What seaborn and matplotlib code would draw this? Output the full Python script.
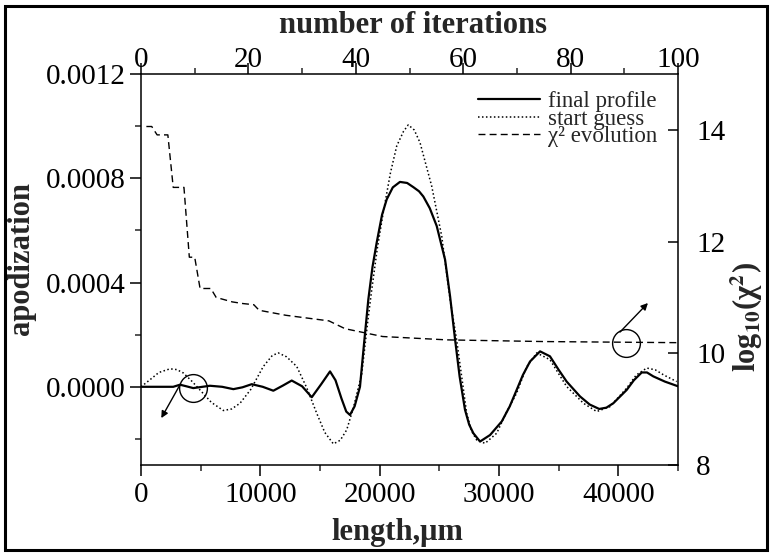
import numpy as np
import pandas as pd
import matplotlib
matplotlib.use("Agg")
import matplotlib.pyplot as plt
import seaborn as sns
from matplotlib.patches import Rectangle
from matplotlib.ticker import MultipleLocator, FixedLocator

# ---------------- data ----------------
length_final = [0, 1000, 2000, 2700, 3270, 3800, 4380, 5000, 5780, 6800, 7740, 8500,
                9280, 10200, 11090, 11900, 12630, 13500, 14310, 15100, 15840, 16300,
                16800, 17200, 17510, 17900, 18350, 18700, 19050, 19400, 19750, 20200,
                20590, 21100, 21700, 22300, 22820, 23300, 23660, 24200, 24780, 25480,
                25900, 26310, 26700, 27150, 27500, 27850, 28410, 29250, 30230, 30900,
                31480, 32000, 32600, 33440, 34270, 35000, 35670, 36790, 37600, 38400,
                39000, 39580, 40700, 41300, 41960, 42400, 42930, 43900, 45000]
apod_final = [0.0, 0.0, 0.0, 0.0, 0.08e-4, 0.02e-4, -0.05e-4, -0.01e-4, 0.04e-4, 0.0,
              -0.09e-4, -0.02e-4, 0.10e-4, 0.0, -0.15e-4, 0.05e-4, 0.24e-4, 0.02e-4,
              -0.40e-4, 0.10e-4, 0.59e-4, 0.25e-4, -0.45e-4, -0.95e-4, -1.08e-4,
              -0.75e-4, 0.0, 1.7e-4, 3.35e-4, 4.6e-4, 5.53e-4, 6.6e-4, 7.19e-4,
              7.65e-4, 7.86e-4, 7.82e-4, 7.66e-4, 7.50e-4, 7.30e-4, 6.85e-4, 6.17e-4,
              4.88e-4, 3.47e-4, 1.85e-4, 0.4e-4, -0.88e-4, -1.45e-4, -1.78e-4,
              -2.10e-4, -1.85e-4, -1.33e-4, -0.75e-4, -0.12e-4, 0.45e-4, 0.97e-4,
              1.36e-4, 1.17e-4, 0.65e-4, 0.20e-4, -0.37e-4, -0.68e-4, -0.85e-4,
              -0.80e-4, -0.63e-4, -0.12e-4, 0.25e-4, 0.55e-4, 0.55e-4, 0.40e-4,
              0.20e-4, 0.02e-4]

length_start = [0, 750, 1500, 2430, 3000, 3550, 4250, 4940, 5900, 6900, 7600, 8300,
                9200, 10250, 11000, 11500, 12200, 13050, 13900, 14720, 15400, 16120,
                16700, 17240, 17800, 18500, 19000, 19300, 19800, 20300, 20900, 21430,
                22000, 22400, 22900, 23380, 24360, 25200, 25900, 26450, 26900, 27290,
                27700, 28130, 28830, 29810, 30600, 31480, 32300, 33160, 34270, 35000,
                35670, 37070, 38190, 39300, 40700, 41500, 42380, 43100, 43780, 44890]
apod_start = [0.0, 0.27e-4, 0.55e-4, 0.69e-4, 0.66e-4, 0.53e-4, 0.22e-4, -0.12e-4,
              -0.60e-4, -0.91e-4, -0.85e-4, -0.63e-4, -0.10e-4, 0.78e-4, 1.20e-4,
              1.30e-4, 1.15e-4, 0.78e-4, -0.05e-4, -1.01e-4, -1.75e-4, -2.19e-4,
              -2.05e-4, -1.65e-4, -0.80e-4, 0.5e-4, 2.5e-4, 3.6e-4, 5.3e-4, 6.68e-4,
              8.2e-4, 9.24e-4, 9.8e-4, 10.05e-4, 9.85e-4, 9.37e-4, 7.70e-4, 5.78e-4,
              3.35e-4, 1.80e-4, 0.3e-4, -1.01e-4, -1.70e-4, -2.04e-4, -2.17e-4,
              -1.78e-4, -1.0e-4, -0.24e-4, 0.75e-4, 1.30e-4, 1.04e-4, 0.50e-4, 0.01e-4,
              -0.63e-4, -0.95e-4, -0.76e-4, -0.05e-4, 0.45e-4, 0.72e-4, 0.65e-4,
              0.46e-4, 0.20e-4]

chi_iter = [1, 2, 3, 5, 6, 8, 9, 10, 11, 13, 14, 17, 19, 21, 22, 27, 35, 38, 43, 45,
            57, 75, 100]
chi_log = [14.06, 14.06, 13.91, 13.91, 12.97, 12.97, 11.72, 11.72, 11.16, 11.16, 11.0,
           10.92, 10.89, 10.87, 10.77, 10.68, 10.58, 10.44, 10.34, 10.30, 10.24, 10.21,
           10.19]

bottom_ticks = [0, 10000, 20000, 30000, 40000]
left_ticks = [0.0, 0.0004, 0.0008, 0.0012]
left_labels = ["0.0000", "0.0004", "0.0008", "0.0012"]
top_ticks = [0, 20, 40, 60, 80, 100]
right_ticks = [8, 10, 12, 14]

series_labels = ["final profile", "start guess", "\u03c7\u00b2 evolution"]

# annotation marks (circle + arrow)
left_circle = (4380, -0.05e-4)
left_arrow_from = (3270, 0.08e-4)
left_arrow_to = (1700, -1.2e-4)
right_circle = (90.4, 10.18)
right_arrow_from = (89.2, 10.38)
right_arrow_to = (94.4, 10.9)

# ---------------- styling ----------------
sns.set_theme(style="ticks")
plt.rcParams["font.family"] = ["Liberation Serif", "DejaVu Serif"]
plt.rcParams["mathtext.fontset"] = "stix"
plt.rcParams["axes.linewidth"] = 1.1

W, H = 772, 553
fig = plt.figure(figsize=(W / 100, H / 100), dpi=100)
rect = [141 / W, 1 - 465 / H, 537 / W, 391 / H]
ax = fig.add_axes(rect)
axc = fig.add_axes(rect, frameon=False, label="chi")
axc.patch.set_visible(False)

df_final = pd.DataFrame({"length": length_final, "apod": apod_final})
df_start = pd.DataFrame({"length": length_start, "apod": apod_start})
df_chi = pd.DataFrame({"iter": chi_iter, "chi": chi_log})

sns.lineplot(data=df_final, x="length", y="apod", ax=ax, color="black",
             linewidth=1.6, sort=False, legend=False)
sns.lineplot(data=df_start, x="length", y="apod", ax=ax, color="black",
             linewidth=1.1, linestyle=(0, (1, 1.6)), sort=False, legend=False)
sns.lineplot(data=df_chi, x="iter", y="chi", ax=axc, color="black",
             linewidth=1.0, linestyle=(0, (5, 3)), sort=False, legend=False)

# main axes: bottom / left
ax.set_xlim(0, 45000)
ax.set_ylim(-0.0003, 0.0012)
ax.xaxis.set_major_locator(FixedLocator(bottom_ticks))
ax.xaxis.set_minor_locator(MultipleLocator(5000))
ax.set_yticks(left_ticks)
ax.set_yticklabels(left_labels)
ax.yaxis.set_minor_locator(MultipleLocator(0.0002))
ax.tick_params(axis="both", which="major", direction="out", length=8, width=1.1,
               labelsize=21, colors="black")
ax.tick_params(axis="both", which="minor", direction="out", length=4.5, width=1.1)
ax.tick_params(axis="x", which="major", pad=4)
ax.tick_params(axis="y", which="major", pad=3)
for s in ax.spines.values():
    s.set_color("black")
    s.set_linewidth(1.1)

ax.set_xlabel("length,\u03bcm", fontsize=22, fontweight="bold")
ax.xaxis.set_label_coords((397 - 141) / 537, (465 - 518) / 391)
ax.set_ylabel("apodization", fontsize=22, fontweight="bold")
ax.yaxis.set_label_coords((36 - 141) / 537, (465 - 258) / 391)

# chi2 axes: top / right
axc.set_xlim(0, 100)
axc.set_ylim(8, 15)
axc.xaxis.tick_top()
axc.xaxis.set_label_position("top")
axc.yaxis.tick_right()
axc.yaxis.set_label_position("right")
axc.xaxis.set_major_locator(FixedLocator(top_ticks))
axc.xaxis.set_minor_locator(MultipleLocator(10))
axc.set_yticks(right_ticks)
axc.tick_params(axis="x", which="major", direction="out", length=8, width=1.1,
                labelsize=21, pad=-7, colors="black")
axc.tick_params(axis="x", which="minor", direction="out", length=4.5, width=1.1)
axc.tick_params(axis="y", which="major", direction="in", length=7, width=1.1,
                labelsize=21, pad=13, colors="black")
axc.set_xlabel("number of iterations", fontsize=22, fontweight="bold")
axc.xaxis.set_label_coords((413 - 141) / 537, (465 - 33) / 391)
axc.set_ylabel("log$_{\\mathbf{10}}$(\u03c7$^{\\mathbf{2}}$)", fontsize=22,
               fontweight="bold", rotation=90)
axc.yaxis.set_label_coords((728 - 141) / 537, (465 - 317) / 391)

# annotations
ax.plot([left_circle[0]], [left_circle[1]], marker="o", ms=20, mfc="none",
        mec="black", mew=1.0, linestyle="none")
ax.annotate("", xy=left_arrow_to, xytext=left_arrow_from,
            arrowprops=dict(arrowstyle="-|>", color="black", lw=1.0,
                            mutation_scale=10, shrinkA=0, shrinkB=0))
axc.plot([right_circle[0]], [right_circle[1]], marker="o", ms=20, mfc="none",
         mec="black", mew=1.0, linestyle="none")
axc.annotate("", xy=right_arrow_to, xytext=right_arrow_from,
             arrowprops=dict(arrowstyle="-|>", color="black", lw=1.0,
                             mutation_scale=10, shrinkA=0, shrinkB=0))

# legend
handles = [ax.get_lines()[0], ax.get_lines()[1], axc.get_lines()[0]]
leg = axc.legend(handles, series_labels, loc="upper right",
                 bbox_to_anchor=((657 - 141) / 537, (465 - 91) / 391),
                 frameon=False, fontsize=16.5, handlelength=2.7, handletextpad=0.35,
                 labelspacing=-0.15, borderaxespad=0, borderpad=0)

# outer frame
fig.patches.append(Rectangle((5 / W, 1 - 550 / H), 762 / W, 544.5 / H,
                             transform=fig.transFigure, fill=False,
                             linewidth=2.2, edgecolor="black"))

fig.savefig("out.png", dpi=100, facecolor="white")
